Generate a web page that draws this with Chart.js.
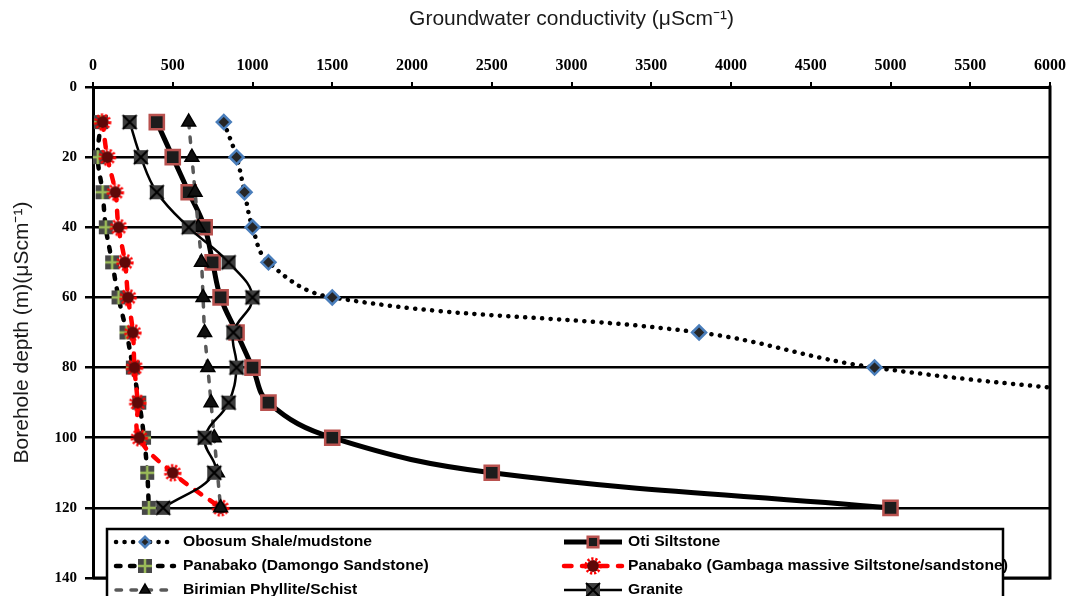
<!DOCTYPE html>
<html>
<head>
<meta charset="utf-8">
<script src="https://cdn.jsdelivr.net/npm/chart.js@4.4.1/dist/chart.umd.min.js"></script>
<style>
  html, body { margin: 0; padding: 0; background: #fff; }
  canvas { display: block; }
</style>
</head>
<body>
<canvas id="depthChart" width="1073" height="596"></canvas>
<script>
// depth (m) of each reading
var depths = [10, 20, 30, 40, 50, 60, 70, 80, 90, 100, 110, 120];

// conductivity readings, one per depth (Obosum runs off the right edge)
var obosum = [820, 900, 950, 1000, 1100, 1500, 3800, 4900, 7000];
var oti = [400, 500, 600, 700, 750, 800, 900, 1000, 1100, 1500, 2500, 5000];
var damongo = [50, 30, 60, 80, 120, 160, 210, 250, 290, 320, 340, 350];
var gambaga = [60, 90, 140, 160, 200, 220, 250, 260, 280, 290, 500, 800];
var birimian = [600, 620, 640, 660, 680, 690, 700, 720, 740, 760, 780, 800];
var granite = [230, 300, 400, 600, 850, 1000, 880, 900, 850, 700, 760, 440];

var seriesNames = [
  "Obosum Shale/mudstone",
  "Oti Siltstone",
  "Panabako (Damongo Sandstone)",
  "Panabako (Gambaga massive Siltstone/sandstone)",
  "Birimian Phyllite/Schist",
  "Granite"
];

var xTicks = { min: 0, max: 6000, step: 500 };
var yTicks = { min: 0, max: 140, step: 20 };

function pairs(values) {
  return values.map(function (v, i) { return { x: v, y: depths[i] }; });
}

// marker images for the styles chart.js does not have
function damongoMarker() {
  var c = document.createElement("canvas");
  c.width = 18; c.height = 18;
  var g = c.getContext("2d");
  g.fillStyle = "#474747";
  g.fillRect(2, 2, 14, 14);
  g.strokeStyle = "#9BBB59";
  g.lineWidth = 2.5;
  g.beginPath();
  g.moveTo(9, 2); g.lineTo(9, 16);
  g.moveTo(2, 9); g.lineTo(16, 9);
  g.stroke();
  return c;
}

function gambagaMarker() {
  var c = document.createElement("canvas");
  c.width = 20; c.height = 20;
  var g = c.getContext("2d");
  g.fillStyle = "#5E0808";
  g.beginPath(); g.arc(10, 10, 6, 0, Math.PI * 2); g.fill();
  g.strokeStyle = "#FF0000";
  g.lineWidth = 3;
  g.setLineDash([2.2, 1.8]);
  g.beginPath(); g.arc(10, 10, 7.2, 0, Math.PI * 2); g.stroke();
  return c;
}

function graniteMarker() {
  var c = document.createElement("canvas");
  c.width = 18; c.height = 18;
  var g = c.getContext("2d");
  g.fillStyle = "#3E3E3E";
  g.fillRect(2, 2, 14, 14);
  g.strokeStyle = "#000";
  g.lineWidth = 2;
  g.beginPath();
  g.moveTo(2, 2); g.lineTo(16, 16);
  g.moveTo(16, 2); g.lineTo(2, 16);
  g.stroke();
  return c;
}

var datasets = [
  {
    label: seriesNames[0], data: pairs(obosum), order: 6,
    borderColor: "#000", borderWidth: 4.5, borderDash: [0.1, 8.4], borderCapStyle: "round",
    pointStyle: "rectRot", pointRadius: 7, pointBorderWidth: 2.5,
    pointBorderColor: "#4A7EBB", pointBackgroundColor: "#262626"
  },
  {
    label: seriesNames[1], data: pairs(oti), order: 5,
    borderColor: "#000", borderWidth: 5,
    pointStyle: "rect", pointRadius: 10, pointBorderWidth: 2.5,
    pointBorderColor: "#B9524F", pointBackgroundColor: "#1C1C1C"
  },
  {
    label: seriesNames[2], data: pairs(damongo), order: 4,
    borderColor: "#000", borderWidth: 4.5, borderDash: [4.5, 9.5], borderCapStyle: "round",
    pointStyle: damongoMarker(), pointRadius: 9
  },
  {
    label: seriesNames[3], data: pairs(gambaga), order: 3,
    borderColor: "#FF0000", borderWidth: 4.5, borderDash: [7.5, 10.5], borderCapStyle: "round",
    pointStyle: gambagaMarker(), pointRadius: 10
  },
  {
    label: seriesNames[4], data: pairs(birimian), order: 2,
    borderColor: "#595959", borderWidth: 3.5, borderDash: [5.5, 9.5], borderCapStyle: "round",
    pointStyle: "triangle", pointRadius: 8, pointBorderWidth: 1.5,
    pointBorderColor: "#000", pointBackgroundColor: "#111"
  },
  {
    label: seriesNames[5], data: pairs(granite), order: 1,
    borderColor: "#000", borderWidth: 2.5,
    pointStyle: graniteMarker(), pointRadius: 9
  }
];

datasets.forEach(function (d) {
  d.showLine = true;
  d.tension = 0.4;
  d.fill = false;
});

// right and bottom edges of the plot frame
var framePlugin = {
  id: "frame",
  beforeDatasetsDraw: function (chart) {
    var a = chart.chartArea, ctx = chart.ctx;
    ctx.save();
    ctx.strokeStyle = "#000";
    ctx.lineWidth = 3;
    ctx.beginPath();
    ctx.moveTo(a.right, a.top - 1.5);
    ctx.lineTo(a.right, a.bottom);
    ctx.lineTo(a.left, a.bottom);
    ctx.stroke();
    ctx.restore();
  }
};

// boxed legend laid over the bottom of the plot
var legendPlugin = {
  id: "boxLegend",
  afterDraw: function (chart) {
    var ctx = chart.ctx;
    var box = { left: 107, top: 529, right: 1003, bottom: 610 };
    var cols = [{ x0: 116, x1: 174, text: 183 }, { x0: 564, x1: 622, text: 628 }];
    var rows = [542, 566, 590];
    ctx.save();
    ctx.fillStyle = "#fff";
    ctx.fillRect(box.left, box.top, box.right - box.left, box.bottom - box.top);
    ctx.strokeStyle = "#000";
    ctx.lineWidth = 2.5;
    ctx.strokeRect(box.left, box.top, box.right - box.left, box.bottom - box.top);

    chart.data.datasets.forEach(function (ds, i) {
      var col = cols[i % 2], y = rows[Math.floor(i / 2)];
      ctx.save();
      ctx.strokeStyle = ds.borderColor;
      ctx.lineWidth = ds.borderWidth;
      ctx.lineCap = ds.borderCapStyle || "butt";
      ctx.setLineDash(ds.borderDash || []);
      ctx.beginPath();
      ctx.moveTo(col.x0, y);
      ctx.lineTo(col.x1, y);
      ctx.stroke();
      ctx.restore();

      ctx.save();
      ctx.fillStyle = ds.pointBackgroundColor || "#000";
      ctx.strokeStyle = ds.pointBorderColor || "#000";
      ctx.lineWidth = ds.pointBorderWidth || 1;
      Chart.helpers.drawPoint(ctx, {
        pointStyle: ds.pointStyle,
        radius: typeof ds.pointStyle === "string" ? ds.pointRadius * 0.75 : ds.pointRadius,
        rotation: 0,
        borderWidth: ds.pointBorderWidth || 1
      }, (col.x0 + col.x1) / 2, y);
      ctx.restore();

      ctx.save();
      ctx.fillStyle = "#000";
      ctx.font = "bold 14px 'Liberation Sans', Arial, sans-serif";
      ctx.textBaseline = "middle";
      ctx.translate(col.text, y);
      ctx.scale(1.12, 1);
      ctx.fillText(ds.label, 0, 0);
      ctx.restore();
    });
    ctx.restore();
  }
};

var ctx = document.getElementById("depthChart").getContext("2d");
var depthChart = new Chart(ctx, {
  type: "scatter",
  data: { datasets: datasets },
  options: {
    responsive: false,
    devicePixelRatio: 1,
    animation: false,
    events: [],
    layout: { padding: { left: 0, top: 0, right: 20, bottom: 18 } },
    elements: { line: { capBezierPoints: false } },
    plugins: {
      legend: { display: false },
      tooltip: { enabled: false }
    },
    scales: {
      x: {
        type: "linear",
        position: "top",
        min: xTicks.min,
        max: xTicks.max,
        afterFit: function (scale) { scale.height = 87; },
        ticks: {
          stepSize: xTicks.step,
          padding: 7,
          color: "#000",
          callback: function (v) { return String(v); },
          font: { family: "'Liberation Serif', 'Times New Roman', serif", size: 16, weight: "bold" }
        },
        grid: { drawOnChartArea: false, color: "#000", lineWidth: 2, tickLength: 5 },
        border: { color: "#000", width: 3 },
        title: {
          display: true,
          text: "Groundwater conductivity (\u03bcScm\u207b\u00b9)",
          color: "#1a1a1a",
          padding: { top: 7, bottom: 0 },
          font: { family: "'Liberation Sans', Arial, sans-serif", size: 21 }
        }
      },
      y: {
        type: "linear",
        position: "left",
        reverse: true,
        min: yTicks.min,
        max: yTicks.max,
        afterFit: function (scale) { scale.width = 93; },
        ticks: {
          stepSize: yTicks.step,
          padding: 8,
          color: "#000",
          callback: function (v) { return String(v); },
          font: { family: "'Liberation Serif', 'Times New Roman', serif", size: 15, weight: "bold" }
        },
        grid: { color: "#000", lineWidth: 2.5, tickLength: 8 },
        border: { color: "#000", width: 3 },
        title: {
          display: true,
          text: "Borehole depth (m)(\u03bcScm\u207b\u00b9)",
          color: "#1a1a1a",
          padding: { top: 10, bottom: 0 },
          font: { family: "'Liberation Sans', Arial, sans-serif", size: 21 }
        }
      }
    }
  },
  plugins: [framePlugin, legendPlugin]
});
</script>
</body>
</html>
